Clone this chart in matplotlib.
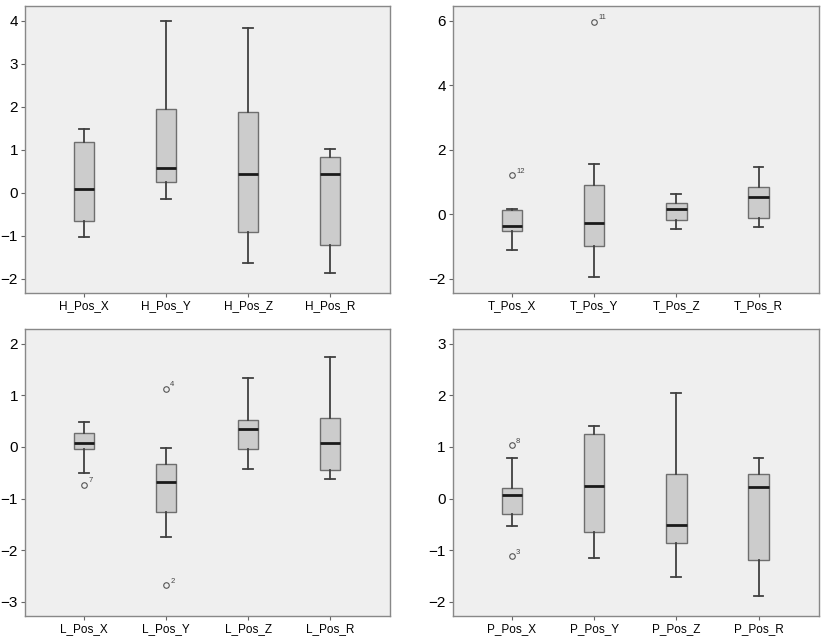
import matplotlib
matplotlib.use("Agg")
import matplotlib.pyplot as plt

plt.rcParams["font.family"] = ["Liberation Sans", "DejaVu Sans"]

# five-number summaries: low whisker, Q1, median, Q3, high whisker
h_labels = ["H_Pos_X", "H_Pos_Y", "H_Pos_Z", "H_Pos_R"]
h_low = [-1.02, -0.14, -1.64, -1.87]
h_q1 = [-0.65, 0.26, -0.91, -1.22]
h_med = [0.08, 0.57, 0.43, 0.44]
h_q3 = [1.18, 1.95, 1.88, 0.84]
h_high = [1.48, 3.99, 3.82, 1.02]
h_fliers = [[], [], [], []]
h_flier_ids = [[], [], [], []]

t_labels = ["T_Pos_X", "T_Pos_Y", "T_Pos_Z", "T_Pos_R"]
t_low = [-1.12, -1.93, -0.44, -0.39]
t_q1 = [-0.51, -0.99, -0.17, -0.11]
t_med = [-0.35, -0.28, 0.16, 0.54]
t_q3 = [0.15, 0.92, 0.36, 0.85]
t_high = [0.16, 1.57, 0.63, 1.46]
t_fliers = [[1.21], [5.97], [], []]
t_flier_ids = [["12"], ["11"], [], []]

l_labels = ["L_Pos_X", "L_Pos_Y", "L_Pos_Z", "L_Pos_R"]
l_low = [-0.50, -1.74, -0.42, -0.63]
l_q1 = [-0.04, -1.26, -0.04, -0.45]
l_med = [0.07, -0.68, 0.34, 0.08]
l_q3 = [0.27, -0.33, 0.52, 0.57]
l_high = [0.48, -0.02, 1.34, 1.75]
l_fliers = [[-0.74], [1.12, -2.68], [], []]
l_flier_ids = [["7"], ["4", "2"], [], []]

p_labels = ["P_Pos_X", "P_Pos_Y", "P_Pos_Z", "P_Pos_R"]
p_low = [-0.54, -1.15, -1.52, -1.88]
p_q1 = [-0.30, -0.64, -0.86, -1.19]
p_med = [0.06, 0.25, -0.52, 0.23]
p_q3 = [0.21, 1.25, 0.48, 0.48]
p_high = [0.79, 1.41, 2.04, 0.79]
p_fliers = [[1.03, -1.12], [], [], []]
p_flier_ids = [["8", "3"], [], [], []]

h_ticks = [-2, -1, 0, 1, 2, 3, 4]
t_ticks = [-2, 0, 2, 4, 6]
l_ticks = [-3, -2, -1, 0, 1, 2]
p_ticks = [-2, -1, 0, 1, 2, 3]


def draw_panel(ax, labels, low, q1, med, q3, high, fliers, flier_ids, ticks, ylim):
    stats = []
    for i, lab in enumerate(labels):
        stats.append({"label": lab, "whislo": low[i], "q1": q1[i], "med": med[i],
                      "q3": q3[i], "whishi": high[i], "fliers": fliers[i]})
    ax.bxp(stats, positions=range(1, len(labels) + 1), widths=0.25,
           patch_artist=True, showfliers=True,
           boxprops=dict(facecolor="#cccccc", edgecolor="#6e6e6e", linewidth=1.0),
           medianprops=dict(color="#1a1a1a", linewidth=2.0),
           whiskerprops=dict(color="#404040", linewidth=1.3),
           capprops=dict(color="#404040", linewidth=1.3),
           capwidths=0.12,
           flierprops=dict(marker="o", markersize=4, markerfacecolor="none",
                           markeredgecolor="#555555", markeredgewidth=0.8))
    for i, ids in enumerate(flier_ids):
        for v, txt in zip(fliers[i], ids):
            ax.annotate(txt, (i + 1, v), xytext=(3, 2), textcoords="offset points",
                        fontsize=5.5, color="#444444")
    ax.set_facecolor("#efefef")
    ax.set_xlim(0.28, 4.73)
    ax.set_ylim(*ylim)
    ax.set_yticks(ticks)
    ax.set_yticklabels([str(t).replace("-", "\u2212") for t in ticks], fontsize=11)
    ax.tick_params(axis="x", labelsize=8.5, length=3, color="#666666", pad=2)
    ax.tick_params(axis="y", length=3, color="#666666", pad=2)
    for s in ax.spines.values():
        s.set_color("#888888")
        s.set_linewidth(1.0)


fig = plt.figure(figsize=(8.26, 6.37), dpi=100)
ax1 = fig.add_axes([0.0303, 0.540, 0.442, 0.4505])
ax2 = fig.add_axes([0.548, 0.540, 0.443, 0.4505])
ax3 = fig.add_axes([0.0303, 0.0325, 0.442, 0.4515])
ax4 = fig.add_axes([0.548, 0.0325, 0.443, 0.4515])

draw_panel(ax1, h_labels, h_low, h_q1, h_med, h_q3, h_high, h_fliers, h_flier_ids, h_ticks, (-2.33, 4.34))
draw_panel(ax2, t_labels, t_low, t_q1, t_med, t_q3, t_high, t_fliers, t_flier_ids, t_ticks, (-2.44, 6.46))
draw_panel(ax3, l_labels, l_low, l_q1, l_med, l_q3, l_high, l_fliers, l_flier_ids, l_ticks, (-3.28, 2.29))
draw_panel(ax4, p_labels, p_low, p_q1, p_med, p_q3, p_high, p_fliers, p_flier_ids, p_ticks, (-2.28, 3.29))

fig.savefig("out.png", dpi=100)
plt.close(fig)
